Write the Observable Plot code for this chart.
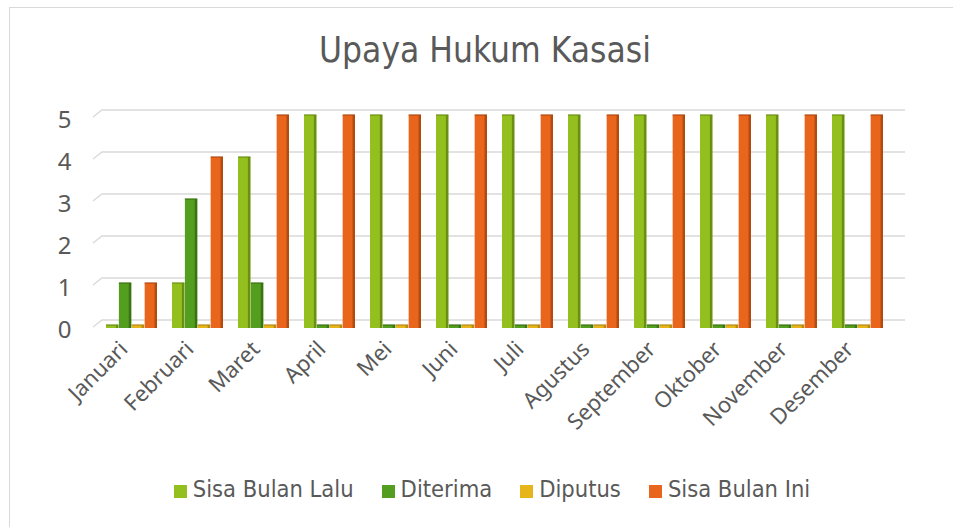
<!DOCTYPE html>
<html>
<head>
<meta charset="utf-8">
<script src="https://cdn.jsdelivr.net/npm/d3@7"></script>
<script src="https://cdn.jsdelivr.net/npm/@observablehq/plot@0.6"></script>
<style>
  html, body { margin: 0; padding: 0; background: #fff; }
  #wrap { position: relative; width: 953px; height: 527px; overflow: hidden;
    font-family: "DejaVu Sans Condensed", "DejaVu Sans", sans-serif; font-stretch: condensed; color: #595959; }
  #border { position: absolute; left: 9px; top: 7px; width: 1200px; height: 800px;
    border-left: 1.5px solid #d9d9d9; border-top: 1.5px solid #d9d9d9; }
  #title { position: absolute; left: 0; top: 33px; width: 970px; text-align: center;
    font-size: 35px; line-height: 35px; }
  #chart { position: absolute; left: 0; top: 95px; }
  #chart svg text.ytick { font-family: "DejaVu Sans Condensed", "DejaVu Sans", sans-serif; font-stretch: condensed; }
  #chart svg text.xtick { font-family: "Open Sans", sans-serif; }
  #legend { position: absolute; left: 0; top: 478px; width: 984px; display: flex; justify-content: center;
    font-size: 23.5px; line-height: 23.5px; }
  .item { display: flex; align-items: center; margin: 0 14px; }
  .sw { width: 13px; height: 13px; margin-right: 6px; margin-top: 3px; }
</style>
</head>
<body>
<div id="wrap">
  <div id="border"></div>
  <div id="title">Upaya Hukum Kasasi</div>
  <div id="chart"></div>
  <div id="legend"></div>
</div>
<script>
const months = ["Januari","Februari","Maret","April","Mei","Juni","Juli","Agustus","September","Oktober","November","Desember"];
const seriesNames = ["Sisa Bulan Lalu","Diterima","Diputus","Sisa Bulan Ini"];
const sisaBulanLalu = [0,1,4,5,5,5,5,5,5,5,5,5];
const diterima     = [1,3,1,0,0,0,0,0,0,0,0,0];
const diputus      = [0,0,0,0,0,0,0,0,0,0,0,0];
const sisaBulanIni = [1,4,5,5,5,5,5,5,5,5,5,5];
const yTicks = [0,1,2,3,4,5];
const colors = ["#93c01f","#549e1f","#e6b51c","#e8651b"];
const sideColors = ["#6a8f12","#3a7313","#b88c10","#b34a10"];

const seriesValues = [sisaBulanLalu, diterima, diputus, sisaBulanIni];
const rows = seriesValues.map((vals, i) => months.map((m, j) => ({month: m, series: seriesNames[i], value: vals[j]})));

const W = 953, H = 370, ML = 102, MR = 66, MT = 20, MB = 140;
const PI = 0.22, PO = 0.05;
const step = (W - ML - MR) / (months.length - PI + 2 * PO);
const bw = step * (1 - PI);
const w = bw / seriesNames.length;

function grid(index, scales, values, dimensions) {
  const g = d3.create("svg:g").attr("fill", "none").attr("stroke", "#d9d9d9").attr("stroke-width", 1.3);
  const x0 = dimensions.marginLeft, x1 = dimensions.width - dimensions.marginRight + 18;
  for (const t of yTicks) {
    const y = scales.y(t) - 5;
    g.append("path").attr("d", `M${x0 - 9},${y + 7}L${x0},${y}H${x1}`);
  }
  return g.node();
}

const barMarks = [];
rows.forEach((data, i) => {
  const n = seriesNames.length;
  barMarks.push(Plot.barY(data, {x: "month", y: "value", fill: colors[i],
    insetLeft: i * w, insetRight: (n - 1 - i) * w, insetBottom: -3}));
  barMarks.push(Plot.barY(data, {x: "month", y: "value", fill: sideColors[i],
    insetLeft: i * w + w - 3, insetRight: (n - 1 - i) * w, insetBottom: -3}));
  barMarks.push(Plot.barY(data, {x: "month", y1: "value", y2: "value", fill: sideColors[i], fillOpacity: 0.6,
    insetLeft: i * w, insetRight: (n - 1 - i) * w, insetTop: -1, insetBottom: -1}));
});

const plot = Plot.plot({
  width: W, height: H, marginLeft: ML, marginRight: MR, marginTop: MT, marginBottom: MB,
  x: {domain: months, paddingInner: PI, paddingOuter: PO, axis: null},
  y: {domain: [0, 5], axis: null},
  style: {background: "transparent", overflow: "visible"},
  marks: [
    grid,
    ...barMarks,
    Plot.text(yTicks, {y: d => d, text: d => String(d), frameAnchor: "left", textAnchor: "end",
      dx: -31, dy: 5, fontSize: 24, fill: "#595959", className: "ytick"}),
    Plot.text(months, {x: d => d, text: d => d, frameAnchor: "bottom", textAnchor: "end",
      rotate: -45, dx: -3, dy: 25, fontSize: 22, fill: "#595959", className: "xtick"})
  ]
});
document.getElementById("chart").appendChild(plot);

const legend = document.getElementById("legend");
seriesNames.forEach((name, i) => {
  const item = document.createElement("div");
  item.className = "item";
  const sw = document.createElement("div");
  sw.className = "sw";
  sw.style.background = colors[i];
  const label = document.createElement("span");
  label.textContent = name;
  item.appendChild(sw);
  item.appendChild(label);
  legend.appendChild(item);
});
</script>
</body>
</html>
